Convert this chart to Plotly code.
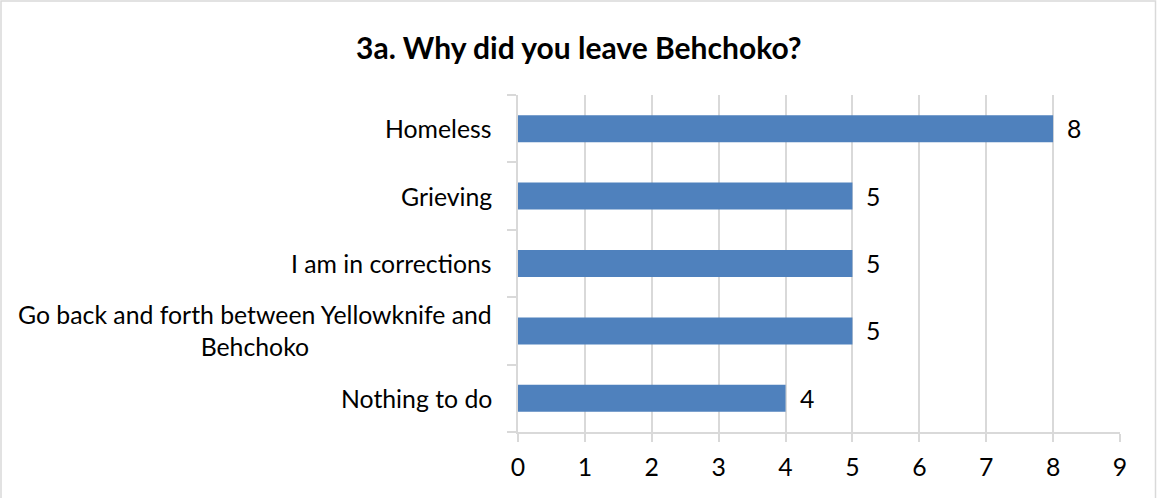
import plotly.graph_objects as go

# Survey responses, listed top to bottom as shown
reasons = [
    "Homeless",
    "Grieving",
    "I am in corrections",
    "Go back and forth between Yellowknife and<br>Behchoko",
    "Nothing to do",
]
counts = [8, 5, 5, 5, 4]
x_ticks = [0, 1, 2, 3, 4, 5, 6, 7, 8, 9]

W, H = 1157, 498
ML, MR, MT, MB = 518, 37, 95, 66
PW, PH = W - ML - MR, H - MT - MB

FONT = "Lato"
FS = 24.8
BAR = "#4F81BD"
GRID = "#D9D9D9"

fig = go.Figure(
    go.Bar(
        x=counts,
        y=reasons,
        orientation="h",
        marker=dict(color=BAR, line=dict(width=0)),
        width=0.4,
        hoverinfo="skip",
    )
)

annotations = []
# category labels, centered line-by-line and right-aligned to the axis
for r in reasons:
    annotations.append(dict(
        x=0, xref="paper", y=r, yref="y", text=r,
        xanchor="right", yanchor="middle", align="center",
        xshift=-24, showarrow=False,
        font=dict(family=FONT, size=FS, color="#000000"),
    ))
# value labels just past the end of each bar
for r, c in zip(reasons, counts):
    annotations.append(dict(
        x=c, xref="x", y=r, yref="y", text=str(c),
        xanchor="left", yanchor="middle", xshift=12, showarrow=False,
        font=dict(family=FONT, size=FS, color="#000000"),
    ))

annotations.append(dict(
    x=(W / 2 - ML) / PW, xref="paper", y=(MT + PH - 47) / PH, yref="paper",
    text="<b>3a. Why did you leave Behchoko?</b>", showarrow=False,
    xanchor="center", yanchor="middle",
    font=dict(family=FONT, size=30, color="#000000"),
))

def px_x(p):
    return (p - ML) / PW

def px_y(p):
    return (MT + PH - p) / PH

fig.update_layout(
    width=W, height=H,
    margin=dict(l=ML, r=MR, t=MT, b=MB),
    paper_bgcolor="white", plot_bgcolor="white",
    showlegend=False,
    annotations=annotations,
    # chart frame (its lower edge falls outside the canvas)
    shapes=[dict(
        type="rect", xref="paper", yref="paper",
        x0=px_x(1), x1=px_x(1155.5), y0=px_y(520), y1=px_y(1),
        line=dict(color="#D9D9D9", width=1.5), fillcolor="rgba(0,0,0,0)",
        layer="below",
    )],
    xaxis=dict(
        range=[0, 9], tickvals=x_ticks, ticktext=[str(v) for v in x_ticks],
        showgrid=True, gridcolor=GRID, gridwidth=1.5,
        showline=True, linecolor=GRID, linewidth=1.5,
        ticks="outside", ticklen=8, tickcolor=GRID, tickwidth=1.5,
        ticklabelstandoff=4,
        tickfont=dict(family=FONT, size=FS, color="#000000"),
        zeroline=False, fixedrange=True,
    ),
    yaxis=dict(
        categoryorder="array", categoryarray=reasons[::-1],
        showticklabels=False,
        showgrid=False,
        showline=True, linecolor=GRID, linewidth=1.5,
        ticks="outside", ticklen=9, tickcolor=GRID, tickwidth=1.5,
        tickson="boundaries",
        zeroline=False, fixedrange=True,
    ),
)

fig.write_html("out.html")
